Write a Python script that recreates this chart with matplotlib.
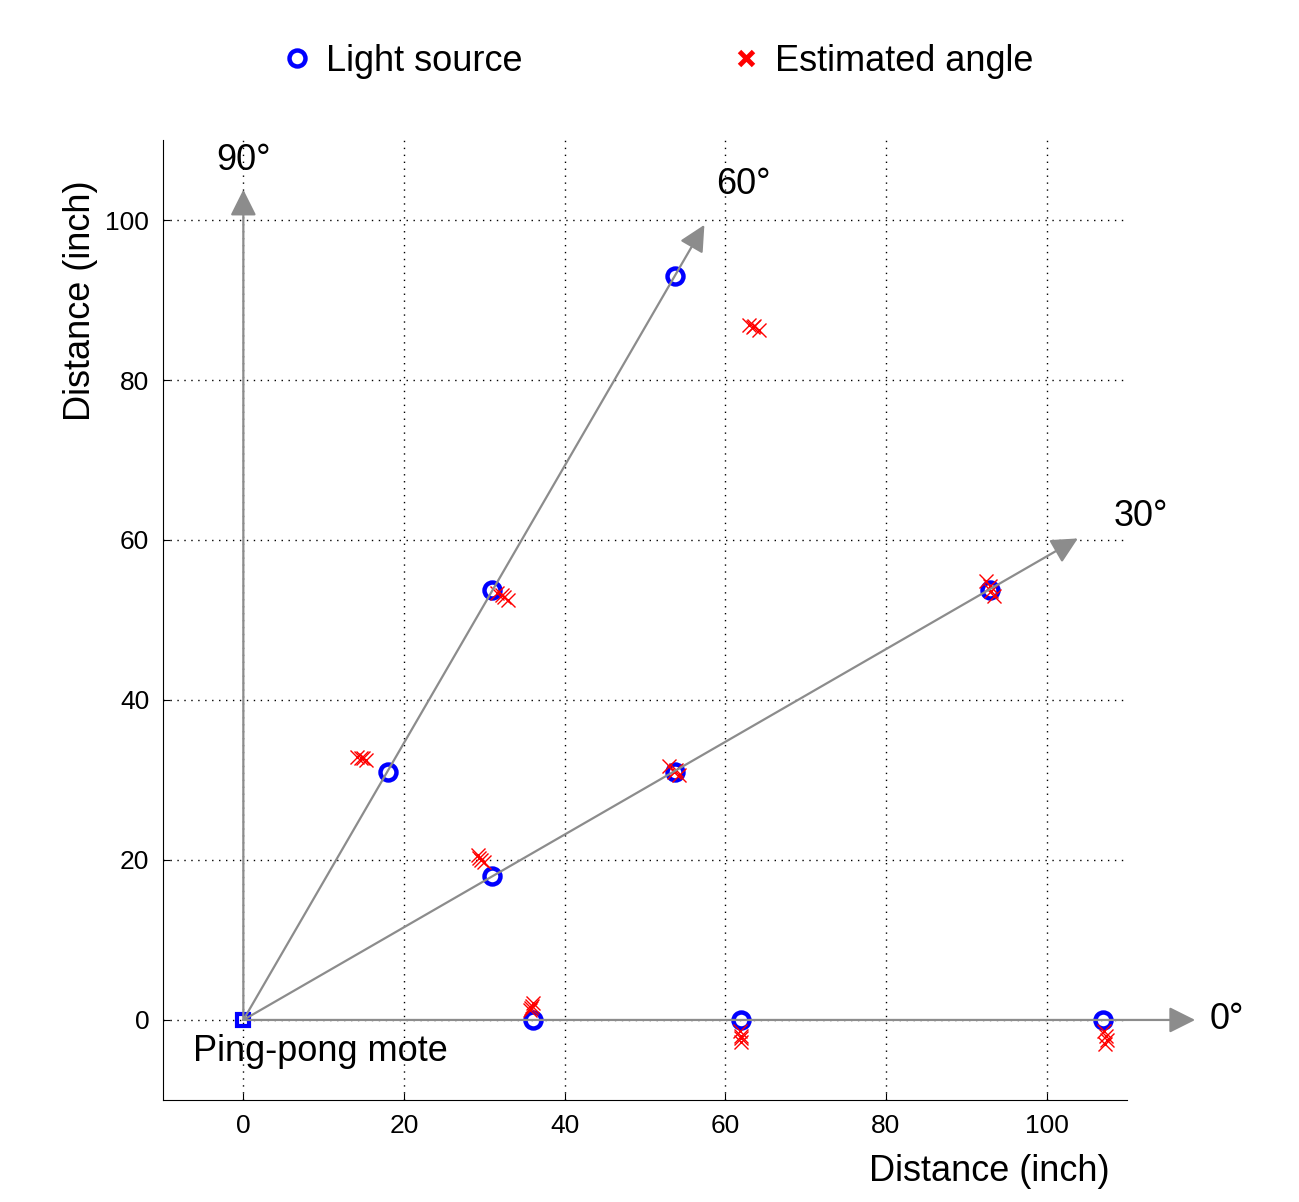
import matplotlib.pyplot as plt
from matplotlib.lines import Line2D

plt.rcParams['font.family'] = ['Liberation Sans', 'DejaVu Sans']

# light source positions
src_x = [36, 62, 107, 31, 53.7, 93, 18, 31, 53.7]
src_y = [0, 0, 0, 18, 31, 53.7, 31, 53.7, 93]

# estimated positions (several per source)
est_x = [35.7, 35.9, 36.0, 35.8,
         61.8, 62.0, 61.9, 62.0,
         107.2, 107.4, 107.3, 107.5,
         29.2, 29.6, 30.0, 29.4,
         53.0, 53.6, 54.2, 53.9,
         92.4, 92.9, 93.4, 93.1,
         14.2, 14.7, 15.3, 14.9,
         31.6, 32.2, 33.0, 32.5,
         63.0, 63.4, 64.2, 63.6]
est_y = [1.3, 1.8, 2.1, 1.5,
         -1.4, -2.0, -2.7, -2.3,
         -1.4, -2.0, -3.0, -2.5,
         20.6, 20.0, 19.8, 20.3,
         31.8, 31.0, 30.6, 31.3,
         54.9, 54.2, 53.0, 53.6,
         32.9, 32.7, 32.5, 32.8,
         53.4, 53.1, 52.5, 52.9,
         86.9, 86.6, 86.3, 86.7]

# reference directions: tip of arrow and label position
arrow_tips = [(118.5, 0), (103.9, 60.2), (57.4, 99.4), (0, 103.8)]
angle_labels = ['0°', '30°', '60°', '90°']
label_pos = [(122.5, 0), (111.7, 63), (62.3, 104.4), (0, 107.5)]

fig = plt.figure(figsize=(12.99, 12.02), dpi=100)
ax = fig.add_axes([0.1255, 0.0849, 0.742, 0.7986])

arrow_col = '#8c8c8c'
for tip in arrow_tips:
    ax.annotate('', xy=tip, xytext=(0, 0), annotation_clip=False,
                arrowprops=dict(arrowstyle='-|>,head_length=1.0,head_width=0.5',
                                color=arrow_col, lw=1.6, shrinkA=0, shrinkB=0,
                                mutation_scale=16))
for lab, pos in zip(angle_labels, label_pos):
    ax.text(pos[0], pos[1], lab, fontsize=26, ha='center', va='center', clip_on=False)

ax.plot([0], [0], 's', ms=9, mfc='none', mec='blue', mew=3)
ax.plot(src_x, src_y, 'o', ms=11.5, mfc='none', mec='blue', mew=3.2, ls='none')
ax.plot(est_x, est_y, 'x', ms=9.5, color='red', mew=1.0, ls='none')

ax.text(-6.3, -4, 'Ping-pong mote', fontsize=26, ha='left', va='center')

ax.set_xlim(-10, 110)
ax.set_ylim(-10, 110)
ax.set_xticks([0, 20, 40, 60, 80, 100])
ax.set_yticks([0, 20, 40, 60, 80, 100])
ax.grid(True, ls=(0, (1, 4)), color='black', lw=1.0)
ax.spines['top'].set_visible(False)
ax.spines['right'].set_visible(False)
ax.tick_params(direction='in', labelsize=19, length=5, pad=10)
ax.set_xlabel('Distance (inch)', fontsize=26)
ax.xaxis.set_label_coords(0.982, -0.075)
ax.xaxis.label.set_ha('right')
ax.xaxis.label.set_va('center')
ax.set_ylabel('Distance (inch)', fontsize=26)
ax.yaxis.set_label_coords(-0.086, 0.958)
ax.yaxis.label.set_va('center')
ax.yaxis.label.set_ha('right')

handles = [Line2D([], [], marker='o', ms=11.5, mfc='none', mec='blue', mew=3.2, ls='none'),
           Line2D([], [], marker='x', ms=10, color='red', mew=3.5, ls='none')]
fig.legend(handles, ['Light source', 'Estimated angle'], loc='center',
           bbox_to_anchor=(0.505, 0.949), ncol=2, frameon=False, fontsize=26,
           handletextpad=0.3, columnspacing=5.7, handlelength=1.0)

fig.savefig('out.png', dpi=100)
